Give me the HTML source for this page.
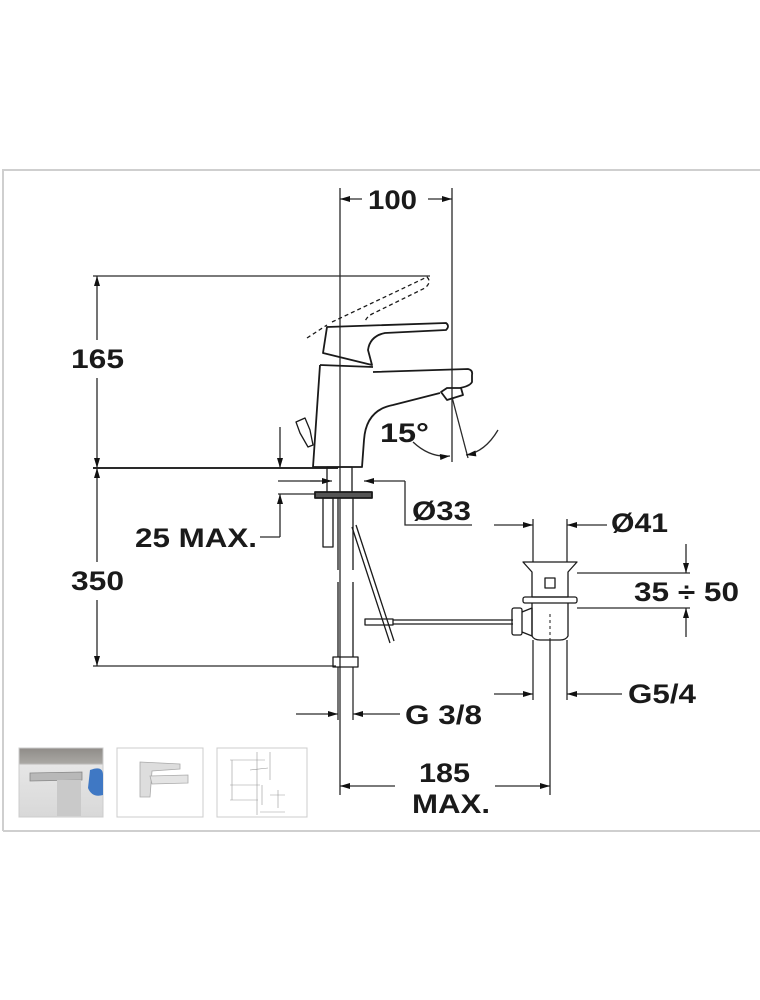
<!DOCTYPE html>
<html><head><meta charset="utf-8"><style>
html,body{margin:0;padding:0;background:#fff;}
svg{display:block}
text{font-family:"Liberation Sans",Arial,sans-serif;font-weight:bold;fill:#1a1a1a}
</style></head><body>
<svg width="760" height="1000" viewBox="0 0 760 1000" xmlns="http://www.w3.org/2000/svg">
<defs>
<marker id="a" viewBox="0 0 10 6" refX="10" refY="3" markerWidth="11" markerHeight="6" orient="auto-start-reverse" markerUnits="userSpaceOnUse"><path d="M0,0L10,3L0,6z" fill="#111"/></marker>
</defs>
<path d="M3,831 L3,170 L760,170" fill="none" stroke="#cfcfcf" stroke-width="2"/>
<path d="M3,831 L760,831" stroke="#cfcfcf" stroke-width="2"/>

<g stroke="#2a2a2a" stroke-width="1.3" fill="none">
<line x1="340" y1="188" x2="340" y2="795"/>
<line x1="452" y1="188" x2="452" y2="462"/>
<line x1="340" y1="199" x2="362" y2="199" marker-start="url(#a)"/>
<line x1="428" y1="199" x2="452" y2="199" marker-end="url(#a)"/>
<line x1="93" y1="276" x2="430" y2="276"/>
<line x1="93" y1="468" x2="338" y2="468" stroke-width="2"/>
<line x1="93" y1="666" x2="336" y2="666"/>
<line x1="97" y1="276" x2="97" y2="340" marker-start="url(#a)"/>
<line x1="97" y1="378" x2="97" y2="468" marker-end="url(#a)"/>
<line x1="97" y1="468" x2="97" y2="562" marker-start="url(#a)"/>
<line x1="97" y1="600" x2="97" y2="666" marker-end="url(#a)"/>
<line x1="280" y1="427" x2="280" y2="468" marker-end="url(#a)"/>
<line x1="280" y1="494" x2="280" y2="537" marker-start="url(#a)"/>
<line x1="260" y1="537" x2="280" y2="537"/>
<line x1="278" y1="481" x2="320" y2="481"/>
<line x1="278" y1="494" x2="316" y2="494"/>
<line x1="310" y1="481" x2="332" y2="481" marker-end="url(#a)"/>
<line x1="364" y1="481" x2="405" y2="481" marker-start="url(#a)"/>
<polyline points="405,481 405,525 472,525"/>
<line x1="494" y1="525" x2="533" y2="525" marker-end="url(#a)"/>
<line x1="567" y1="525" x2="607" y2="525" marker-start="url(#a)"/>
<line x1="533" y1="519" x2="533" y2="562"/>
<line x1="567" y1="519" x2="567" y2="562"/>
<line x1="533" y1="640" x2="533" y2="700"/>
<line x1="567" y1="640" x2="567" y2="700"/>
<line x1="577" y1="573" x2="690" y2="573"/>
<line x1="577" y1="608" x2="690" y2="608"/>
<line x1="686" y1="544" x2="686" y2="573" marker-end="url(#a)"/>
<line x1="686" y1="608" x2="686" y2="637" marker-start="url(#a)"/>
<line x1="494" y1="694" x2="533" y2="694" marker-end="url(#a)"/>
<line x1="567" y1="694" x2="622" y2="694" marker-start="url(#a)"/>
<line x1="296" y1="714" x2="338" y2="714" marker-end="url(#a)"/>
<line x1="353" y1="714" x2="400" y2="714" marker-start="url(#a)"/>
<line x1="338" y1="667" x2="338" y2="720"/>
<line x1="353" y1="667" x2="353" y2="720"/>
<line x1="550" y1="640" x2="550" y2="795"/>
<line x1="340" y1="786" x2="395" y2="786" marker-start="url(#a)"/>
<line x1="495" y1="786" x2="550" y2="786" marker-end="url(#a)"/>
<line x1="452" y1="397" x2="468" y2="458"/>
<path d="M413,442 Q430,458 450,456" marker-end="url(#a)"/>
<path d="M498,430 Q485,452 466,455" marker-end="url(#a)"/>
</g>

<g stroke="#1a1a1a" stroke-width="1.8" fill="none" stroke-linejoin="round">
<path d="M320,365 L313,467 L362,467 L364,440 Q366,410 393,405 Q420,398 440,393"/>
<path d="M373,372 L468,369 Q473,370 472,375 L472,382 Q470,386 460,388"/>
<path d="M441,392 L447,388 L461,388 L463,395 L447,400 Z"/>
<path d="M320,365 L373,367"/>
<path d="M327,327 L446,323 Q450,326 446,330 L385,333 Q370,336 368,350 L372,365 L323,353 Z"/>
<path d="M307,338 L327,325 M332,322 L427,277 Q432,282 425,288 L372,314 Q365,318 365,323" stroke-dasharray="4,3" stroke-width="1.3"/>
<path d="M296,422 L305,418 L310,430 L313,445 L308,447 L300,433 Z" stroke-width="1.3"/>
<rect x="327" y="467" width="25" height="26" stroke-width="1.3"/>
<rect x="315" y="492" width="57" height="6" fill="#555"/>
<rect x="323" y="498" width="10" height="49" stroke-width="1.3"/>
<path d="M338,498 L338,570 M353,498 L353,570 M338,582 L338,657 M353,582 L353,657" stroke-width="1.3"/>
<rect x="333" y="657" width="25" height="10" stroke-width="1.3"/>
<path d="M352,527 L390,643 M356,525 L394,641" stroke-width="1.3"/>
<rect x="365" y="619" width="28" height="6" stroke-width="1.3"/>
<path d="M393,620 L513,620 M393,624 L513,624" stroke-width="1.3"/>
<rect x="512" y="608" width="10" height="27" rx="2" stroke-width="1.3"/>
<path d="M522,612 L532,608 L532,636 L522,632" stroke-width="1.3"/>
<path d="M523,562 L577,562 L568,572 L568,597 L532,597 L532,572 Z" stroke-width="1.3"/>
<rect x="545" y="578" width="10" height="10" stroke-width="1.3"/>
<rect x="523" y="597" width="54" height="6" rx="2" stroke-width="1.3"/>
<path d="M532,603 L532,636 Q534,640 540,640 L560,640 Q566,640 568,636 L568,603" stroke-width="1.3"/>
<line x1="550" y1="614" x2="550" y2="640" stroke-dasharray="3,3" stroke-width="1"/>
</g>

<g font-size="27">
<rect x="70" y="344" width="56" height="28" fill="#fff"/>
<text x="71" y="368" textLength="53" lengthAdjust="spacingAndGlyphs">165</text>
<rect x="70" y="566" width="56" height="28" fill="#fff"/>
<text x="71" y="590" textLength="53" lengthAdjust="spacingAndGlyphs">350</text>
<text x="368" y="209" textLength="49" lengthAdjust="spacingAndGlyphs">100</text>
<text x="135" y="547" textLength="122" lengthAdjust="spacingAndGlyphs">25 MAX.</text>
<text x="412" y="520" textLength="59" lengthAdjust="spacingAndGlyphs">Ø33</text>
<text x="611" y="532" textLength="57" lengthAdjust="spacingAndGlyphs">Ø41</text>
<text x="634" y="601" textLength="105" lengthAdjust="spacingAndGlyphs">35 ÷ 50</text>
<text x="628" y="703" textLength="68" lengthAdjust="spacingAndGlyphs">G5/4</text>
<text x="405" y="724" textLength="77" lengthAdjust="spacingAndGlyphs">G 3/8</text>
<text x="419" y="782" textLength="51" lengthAdjust="spacingAndGlyphs">185</text>
<text x="412" y="813" textLength="78" lengthAdjust="spacingAndGlyphs">MAX.</text>
<text x="380" y="442" textLength="49" lengthAdjust="spacingAndGlyphs">15°</text>
</g>

<defs>
<linearGradient id="g1" x1="0" y1="0" x2="0" y2="1"><stop offset="0" stop-color="#8f8c88"/><stop offset="0.22" stop-color="#a9a7a3"/><stop offset="0.25" stop-color="#e6e6e6"/><stop offset="1" stop-color="#d8d8d8"/></linearGradient>
</defs>
<rect x="19" y="748" width="84" height="69" fill="url(#g1)" stroke="#ccc"/>
<path d="M30,773 L82,772 L82,780 L30,781 Z" fill="#b8b8b8" stroke="#888" stroke-width="0.8"/>
<rect x="57" y="780" width="24" height="36" fill="#c9c9c9"/>
<path d="M90,770 Q103,765 103,775 L103,795 Q92,798 88,788 Z" fill="#3f78c4"/>
<rect x="117" y="748" width="86" height="69" fill="#fff" stroke="#ccc"/>
<path d="M140,762 L180,764 L180,769 L152,771 L150,797 L140,797 Z" fill="#ddd" stroke="#aaa" stroke-width="0.8"/>
<path d="M150,776 L188,775 L188,783 L152,784 Z" fill="#e4e4e4" stroke="#aaa" stroke-width="0.8"/>
<rect x="217" y="748" width="90" height="69" fill="#fff" stroke="#ccc"/>
<g stroke="#999" stroke-width="0.6" fill="none">
<path d="M230,760 L265,760 M232,760 L232,800 M230,785 L260,785 M230,800 L258,800 M257,752 L257,815 M270,752 L270,780 M250,770 L268,768 M262,785 L262,805 M270,795 L285,795 M278,790 L278,808 M260,812 L285,812"/>
</g>
</svg>
</body></html>
